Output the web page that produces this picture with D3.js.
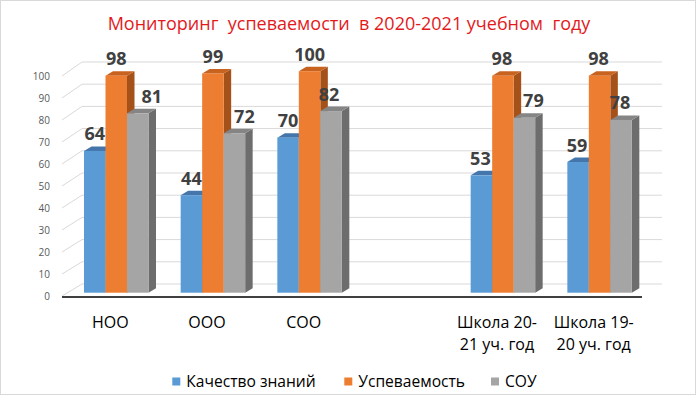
<!DOCTYPE html>
<html>
<head>
<meta charset="utf-8">
<script src="https://cdn.jsdelivr.net/npm/d3@7"></script>
<style>
    body { margin: 0; background: #fff; }
    svg { display: block; font-family: "Open Sans", "Noto Sans", sans-serif; }
</style>
</head>
<body>
<svg></svg>
<script>
// Chart data.
var categories = ['НОО', 'ООО', 'СОО', '', 'Школа 20-21 уч. год', 'Школа 19-20 уч. год'];
var categoryLines = [['НОО'], ['ООО'], ['СОО'], [], ['Школа 20-', '21 уч. год'], ['Школа 19-', '20 уч. год']];
var seriesNames = ['Качество знаний', 'Успеваемость', 'СОУ'];
var quality = [64, 44, 70, null, 53, 59];
var progress = [98, 99, 100, null, 98, 98];
var sou = [81, 72, 82, null, 79, 78];
var yTicks = [0, 10, 20, 30, 40, 50, 60, 70, 80, 90, 100];
var title = 'Мониторинг  успеваемости  в 2020-2021 учебном  году';

var seriesValues = [quality, progress, sou];

// Face colours per series: front, top, side.
var colors = [
    {front: '#5b9bd5', top: '#4476ab', side: '#3d6a99'},
    {front: '#ed7d31', top: '#c8631f', side: '#a4511a'},
    {front: '#a5a5a5', top: '#858585', side: '#6d6d6d'}
];

// The gray labels were nudged sideways in the original chart.
var labelNudge = [[0, 0, 14], [0, 0, 10], [0, 0, -2], [0, 0, 0], [-1, -1, 9], [-1, -1, -1]];

var W = 696, H = 395;
var svg = d3.select('svg').attr('width', W).attr('height', H);

// Outer border.
svg.append('rect')
    .attr('x', 0.5).attr('y', 0.5)
    .attr('width', W - 1).attr('height', H - 1)
    .attr('fill', '#fff')
    .attr('stroke', '#d9d9d9');

// Title.
svg.append('text')
    .attr('x', 349).attr('y', 30)
    .attr('text-anchor', 'middle')
    .attr('fill', '#e31a1c')
    .style('font-size', '18px')
    .attr('xml:space', 'preserve')
    .text(title);

//==========================================================================
// Scales. Front edge of the floor vs back wall (3D oblique view).

var floorLeft = 62, floorRight = 642;
var depthX = 20;
var yFront = d3.scaleLinear().domain([0, 100]).range([296, 76]);
var yBack = d3.scaleLinear().domain([0, 100]).range([284, 62]);
var yBar = d3.scaleLinear().domain([0, 100]).range([292.7, 71.2]);

var xCat = d3.scaleBand()
    .domain(categories)
    .range([floorLeft, floorRight]);

var xSeries = d3.scaleBand()
    .domain(seriesNames)
    .range([22, 22 + 64.5]);

var barDx = 7.5, barDy = -4.5;

// Gridlines: side wall diagonal + back wall line.
var grid = svg.append('g');
grid.selectAll('path')
    .data(yTicks)
    .enter()
    .append('path')
    .attr('d', function(v) {
        var p = d3.path();
        p.moveTo(floorLeft, yFront(v));
        p.lineTo(floorLeft + depthX, yBack(v));
        p.lineTo(floorRight + depthX, yBack(v));
        return p.toString();
    })
    .attr('fill', 'none')
    .attr('stroke', '#d9d9d9')
    .attr('stroke-width', 1);

// Tick labels.
svg.append('g').selectAll('text')
    .data(yTicks)
    .enter()
    .append('text')
    .attr('x', 50)
    .attr('y', function(v) { return yFront(v); })
    .attr('dy', '0.35em')
    .attr('text-anchor', 'end')
    .attr('fill', '#595959')
    .style('font-size', '10px')
    .text(function(v) { return v; });

// Floor front edge (axis line).
svg.append('line')
    .attr('x1', floorLeft).attr('x2', floorRight)
    .attr('y1', 297).attr('y2', 297)
    .attr('stroke', '#000')
    .attr('stroke-width', 1.3);

//==========================================================================
// Bars, drawn left to right so that each front hides the previous side.

var bars = [];
categories.forEach(function(c, ci) {
    seriesNames.forEach(function(s, si) {
        var v = seriesValues[si][ci];
        if (v === null) return;
        bars.push({cat: c, ci: ci, series: s, si: si, value: v});
    });
});

var barG = svg.append('g');
var barGroups = barG.selectAll('.bar')
    .data(bars)
    .enter()
    .append('g')
    .classed('bar', true);

function barGeom(d) {
    var x0 = xCat(d.cat) + xSeries(d.series);
    var w = xSeries.bandwidth();
    return {x0: x0, x1: x0 + w, y0: yBar(0), y1: yBar(d.value)};
}

// Side face.
barGroups.append('path')
    .attr('d', function(d) {
        var g = barGeom(d);
        var p = d3.path();
        p.moveTo(g.x1, g.y0);
        p.lineTo(g.x1 + barDx, g.y0 + barDy);
        p.lineTo(g.x1 + barDx, g.y1 + barDy);
        p.lineTo(g.x1, g.y1);
        p.closePath();
        return p.toString();
    })
    .attr('fill', function(d) { return colors[d.si].side; });

// Top face.
barGroups.append('path')
    .attr('d', function(d) {
        var g = barGeom(d);
        var p = d3.path();
        p.moveTo(g.x0, g.y1);
        p.lineTo(g.x0 + barDx, g.y1 + barDy);
        p.lineTo(g.x1 + barDx, g.y1 + barDy);
        p.lineTo(g.x1, g.y1);
        p.closePath();
        return p.toString();
    })
    .attr('fill', function(d) { return colors[d.si].top; });

// Front face.
barGroups.append('rect')
    .attr('x', function(d) { return barGeom(d).x0; })
    .attr('y', function(d) { return barGeom(d).y1; })
    .attr('width', xSeries.bandwidth())
    .attr('height', function(d) { return yBar(0) - yBar(d.value); })
    .attr('fill', function(d) { return colors[d.si].front; });

// Value labels.
svg.append('g').selectAll('text')
    .data(bars)
    .enter()
    .append('text')
    .attr('x', function(d) {
        var g = barGeom(d);
        return (g.x0 + g.x1) / 2 + labelNudge[d.ci][d.si];
    })
    .attr('y', function(d) { return yBar(d.value) - 10.5; })
    .attr('text-anchor', 'middle')
    .attr('fill', '#404040')
    .style('font-size', '18px')
    .style('font-weight', 'bold')
    .text(function(d) { return d.value; });

// Category labels.
var catLabels = svg.append('g').selectAll('text')
    .data(categories)
    .enter()
    .append('text')
    .attr('x', function(c) { return xCat(c) + xCat.bandwidth() / 2; })
    .attr('y', 328)
    .attr('text-anchor', 'middle')
    .attr('fill', '#000')
    .style('font-size', '16px');

catLabels.each(function(c, i) {
    var t = d3.select(this);
    categoryLines[i].forEach(function(line, li) {
        t.append('tspan')
            .attr('x', xCat(c) + xCat.bandwidth() / 2)
            .attr('dy', li === 0 ? 0 : 21.5)
            .text(line);
    });
});

//==========================================================================
// Legend.

var legendX = [172.3, 344.3, 491];
var legend = svg.append('g').selectAll('g')
    .data(seriesNames)
    .enter()
    .append('g')
    .attr('transform', function(d, i) { return 'translate(' + legendX[i] + ',377.5)'; });

legend.append('rect')
    .attr('width', 8).attr('height', 8)
    .attr('fill', function(d, i) { return colors[i].front; });

legend.append('text')
    .attr('x', 14)
    .attr('y', 9.2)
    .attr('fill', '#000')
    .style('font-size', '15.6px')
    .text(function(d) { return d; });
</script>
</body>
</html>
